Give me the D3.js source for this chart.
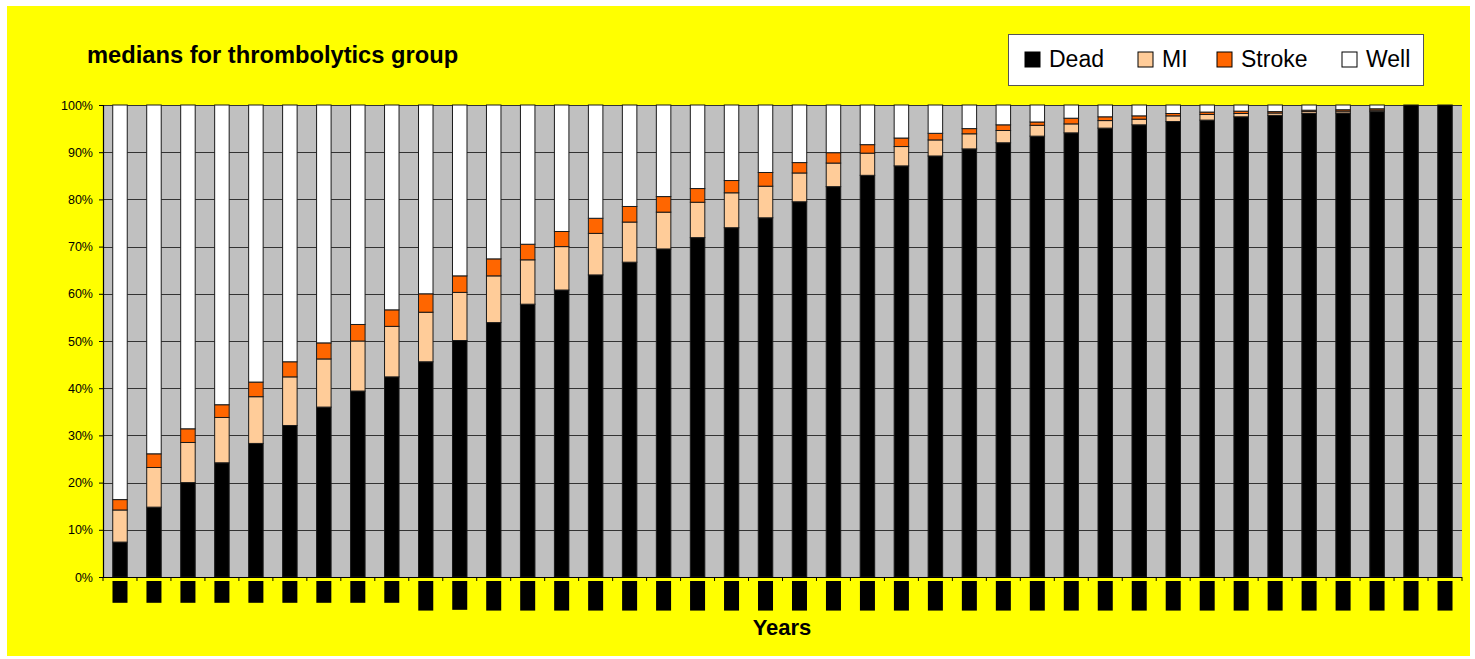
<!DOCTYPE html>
<html>
<head>
<meta charset="utf-8">
<script src="https://cdn.jsdelivr.net/npm/d3@7"></script>
<style>
  html, body { margin: 0; padding: 0; background: #ffffff; }
  svg { display: block; font-family: "Liberation Sans", Arial, sans-serif; }
</style>
</head>
<body>
<svg id="chart" width="1475" height="659"></svg>
<script>
// ---- data (percent of cohort per year) ----
const years = d3.range(1, 41).map(String);
const seriesNames = ["Dead", "MI", "Stroke", "Well"];
const dead   = [7.4,14.8,20.0,24.2,28.3,32.1,36.0,39.4,42.4,45.6,50.1,53.9,57.8,60.8,64.0,66.7,69.5,71.9,74.0,76.1,79.5,82.7,85.1,87.1,89.2,90.7,92.0,93.4,94.1,95.1,95.8,96.5,96.8,97.5,97.8,98.2,98.3,98.6,100,100];
const mi     = [6.8,8.4,8.5,9.6,9.9,10.3,10.2,10.6,10.7,10.5,10.2,9.9,9.4,9.2,8.8,8.5,7.8,7.5,7.4,6.7,6.1,5.0,4.7,4.1,3.4,3.2,2.6,2.3,1.9,1.6,1.2,1.2,1.2,0.7,0.5,0.4,0.4,0.3,0,0];
const stroke = [2.2,2.9,2.9,2.7,3.1,3.2,3.4,3.5,3.5,3.9,3.5,3.6,3.3,3.2,3.2,3.3,3.3,2.9,2.6,2.9,2.2,2.2,1.8,1.8,1.4,1.1,1.2,0.7,1.2,0.8,0.7,0.5,0.5,0.5,0.3,0.3,0.3,0.3,0,0];
const well   = [83.6,73.9,68.6,63.5,58.7,54.4,50.4,46.5,43.4,40.0,36.2,32.6,29.5,26.8,24.0,21.5,19.4,17.7,16.0,14.3,12.2,10.1,8.4,7.0,6.0,5.0,4.2,3.6,2.8,2.5,2.3,1.8,1.5,1.3,1.4,1.1,1.0,0.8,0,0];
const yTicks = d3.range(0, 1.01, 0.1);

const colors = { Dead: "#000000", MI: "#FFCC99", Stroke: "#FF6600", Well: "#FFFFFF" };

const rows = years.map((yr, i) => ({ year: yr, Dead: dead[i], MI: mi[i], Stroke: stroke[i], Well: well[i] }));
const stacked = d3.stack().keys(seriesNames).offset(d3.stackOffsetExpand)(rows);

const svg = d3.select("#chart");

// background
svg.append("rect").attr("x", 7).attr("y", 6).attr("width", 1463).attr("height", 650).attr("fill", "#FFFF00");

const plot = { left: 103, right: 1462, top: 105, bottom: 577 };

const x = d3.scaleBand().domain(years).range([plot.left, plot.right]).paddingInner(0.573).paddingOuter(0.2865);
const y = d3.scaleLinear().domain([0, 1]).range([plot.bottom, plot.top]);

// plot area
svg.append("rect").attr("x", plot.left).attr("y", plot.top)
  .attr("width", plot.right - plot.left).attr("height", plot.bottom - plot.top).attr("fill", "#C0C0C0");

// gridlines
svg.append("g").selectAll("line").data(yTicks.slice(1)).join("line")
  .attr("x1", plot.left).attr("x2", plot.right)
  .attr("y1", d => Math.round(y(d)) + 0.5).attr("y2", d => Math.round(y(d)) + 0.5)
  .attr("stroke", "#333333").attr("stroke-width", 1);

// bars
svg.append("g").selectAll("g").data(stacked).join("g")
  .attr("fill", d => colors[d.key])
  .selectAll("rect").data(d => d.filter(s => s[1] - s[0] > 0)).join("rect")
  .attr("x", d => x(d.data.year))
  .attr("width", x.bandwidth())
  .attr("y", d => y(d[1]))
  .attr("height", d => y(d[0]) - y(d[1]))
  .attr("stroke", "#1a1a1a").attr("stroke-width", 1);

// y axis
const yAxis = d3.axisLeft(y).tickValues(yTicks).tickFormat(d3.format(".0%")).tickSize(4).tickPadding(6);
const gy = svg.append("g").attr("transform", `translate(${plot.left},0)`).call(yAxis);
gy.select(".domain").attr("stroke", "#000").attr("stroke-width", 1.2);
gy.selectAll(".tick line").attr("stroke", "#000");
gy.selectAll(".tick text").attr("font-size", 12.5).attr("fill", "#000")
  .attr("font-family", "Liberation Sans, Arial, sans-serif");

// x axis baseline and ticks at band boundaries
const step = x.step();
const gap = (step - x.bandwidth()) / 2;
svg.append("line").attr("x1", plot.left).attr("x2", plot.right)
  .attr("y1", plot.bottom + 0.5).attr("y2", plot.bottom + 0.5).attr("stroke", "#000").attr("stroke-width", 1.2);
svg.append("g").selectAll("line").data(years.concat(["end"])).join("line")
  .attr("x1", (d, i) => i < years.length ? x(d) - gap : plot.right)
  .attr("x2", (d, i) => i < years.length ? x(d) - gap : plot.right)
  .attr("y1", plot.bottom).attr("y2", plot.bottom + 4).attr("stroke", "#000");

// x tick labels (rendered as solid black blocks as in the reference)
const xl = svg.append("g").selectAll("g").data(years).join("g")
  .attr("transform", d => `translate(${x(d) + x.bandwidth() / 2},581)`);
xl.append("rect").attr("class", "lblbg").attr("x", -7.5).attr("y", 0).attr("width", 15).attr("fill", "#000");
xl.append("text").text(d => d)
  .attr("transform", "rotate(-90)").attr("text-anchor", "end").attr("dy", "0.35em").attr("dx", -4)
  .attr("font-size", 14).attr("font-weight", "bold").attr("fill", "#000");
xl.each(function () {
  const g = d3.select(this);
  const len = g.select("text").node().getComputedTextLength();
  g.select("rect").attr("height", len + 14);
});

// axis title
svg.append("text").attr("x", 782).attr("y", 635).attr("text-anchor", "middle")
  .attr("font-size", 22).attr("font-weight", "bold").attr("fill", "#000").text("Years");

// chart title
svg.append("text").attr("x", 87).attr("y", 63).attr("font-size", 23.7).attr("font-weight", "bold")
  .attr("fill", "#000").text("medians for thrombolytics group");

// legend
const lg = svg.append("g");
lg.append("rect").attr("x", 1008.5).attr("y", 34.5).attr("width", 415).attr("height", 51)
  .attr("fill", "#fff").attr("stroke", "#555").attr("stroke-width", 1);
const legendX = [1025, 1138, 1217, 1342];
const li = lg.selectAll("g").data(seriesNames).join("g")
  .attr("transform", (d, i) => `translate(${legendX[i]},52)`);
li.append("rect").attr("width", 15).attr("height", 15).attr("fill", d => colors[d])
  .attr("stroke", "#000").attr("stroke-width", 1);
li.append("text").attr("x", 24).attr("y", 15).attr("font-size", 23).attr("fill", "#000").text(d => d);
</script>
</body>
</html>
